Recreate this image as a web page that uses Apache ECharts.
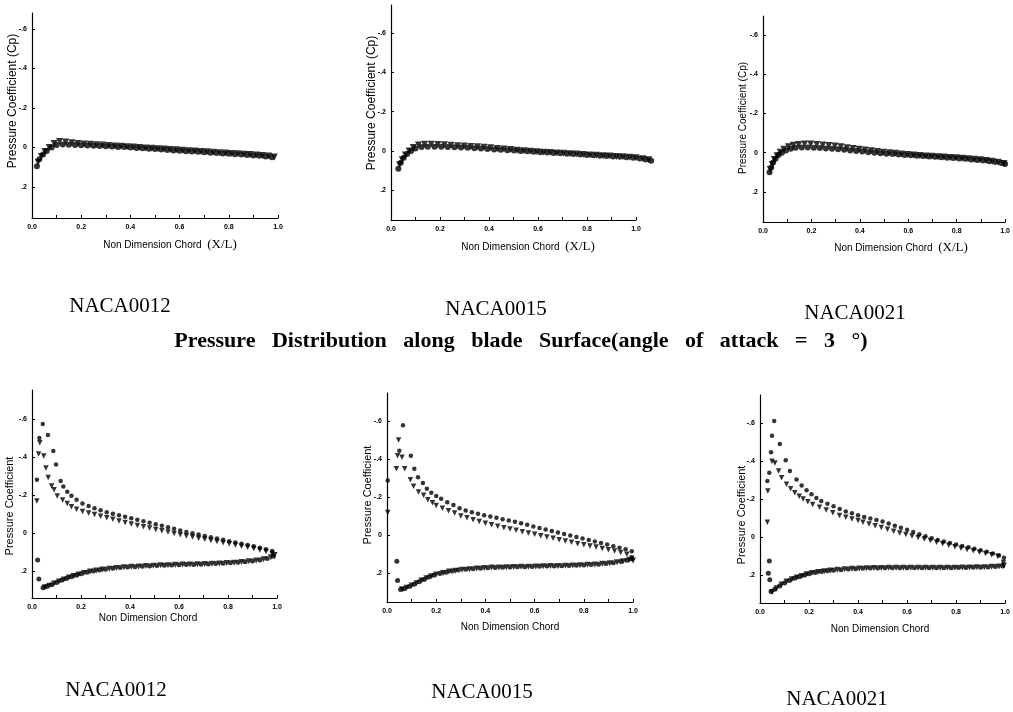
<!DOCTYPE html>
<html><head><meta charset="utf-8">
<script src="https://cdn.jsdelivr.net/npm/echarts@6/dist/echarts.min.js"></script>
<style>html,body{margin:0;padding:0;background:#fff}#c{width:1013px;height:712px}</style>
</head><body><div id="c"></div>
<script>
// ---- tick labels ----
const xTicks = [0, 0.2, 0.4, 0.6, 0.8, 1.0];
const xTickLabels = ['0.0', '0.2', '0.4', '0.6', '0.8', '1.0'];
const xMinorTicks = [0, 0.1, 0.2, 0.3, 0.4, 0.5, 0.6, 0.7, 0.8, 0.9, 1.0];
const yTicks = [-0.6, -0.4, -0.2, 0, 0.2];
const yTickLabels = ['-.6', '-.4', '-.2', '0', '.2'];
const panelNames = ['NACA0012', 'NACA0015', 'NACA0021'];

// ---- top row (angle of attack 0) : [x/L, Cp] ----
const p1Circ = [[0.02,0.095],[0.03,0.06],[0.045,0.035],[0.06,0.018],[0.08,0.0],[0.1,-0.012],[0.125,-0.015],[0.15,-0.014],[0.175,-0.012],[0.2,-0.011],[0.225,-0.01],[0.25,-0.009],[0.275,-0.007],[0.3,-0.006],[0.325,-0.005],[0.35,-0.003],[0.375,-0.002],[0.4,0.0],[0.425,0.002],[0.45,0.004],[0.475,0.006],[0.5,0.008],[0.525,0.01],[0.55,0.013],[0.575,0.015],[0.6,0.017],[0.625,0.019],[0.65,0.02],[0.675,0.022],[0.7,0.024],[0.725,0.026],[0.75,0.028],[0.775,0.03],[0.8,0.032],[0.825,0.034],[0.85,0.036],[0.875,0.038],[0.9,0.04],[0.925,0.042],[0.95,0.045],[0.975,0.05]];
const p1Tri = [[0.025,0.075],[0.038,0.045],[0.052,0.02],[0.07,0.0],[0.09,-0.02],[0.112,-0.03],[0.137,-0.028],[0.162,-0.024],[0.187,-0.02],[0.212,-0.018],[0.237,-0.016],[0.262,-0.014],[0.287,-0.012],[0.312,-0.01],[0.337,-0.008],[0.362,-0.006],[0.387,-0.004],[0.412,-0.002],[0.437,0.0],[0.462,0.002],[0.487,0.004],[0.512,0.006],[0.537,0.008],[0.562,0.01],[0.587,0.012],[0.612,0.014],[0.637,0.016],[0.662,0.018],[0.687,0.02],[0.712,0.022],[0.737,0.024],[0.762,0.026],[0.787,0.028],[0.812,0.03],[0.837,0.032],[0.862,0.034],[0.887,0.036],[0.912,0.038],[0.937,0.04],[0.962,0.043],[0.985,0.048]];

const p2Circ = [[0.03,0.09],[0.04,0.06],[0.052,0.035],[0.066,0.015],[0.082,0.0],[0.1,-0.012],[0.125,-0.02],[0.15,-0.022],[0.178,-0.022],[0.205,-0.021],[0.232,-0.02],[0.259,-0.019],[0.286,-0.018],[0.313,-0.016],[0.34,-0.014],[0.367,-0.012],[0.394,-0.01],[0.421,-0.008],[0.448,-0.006],[0.475,-0.004],[0.502,-0.002],[0.529,0.0],[0.556,0.002],[0.583,0.004],[0.61,0.006],[0.637,0.008],[0.664,0.01],[0.691,0.012],[0.718,0.014],[0.745,0.016],[0.772,0.018],[0.799,0.02],[0.826,0.022],[0.853,0.024],[0.88,0.026],[0.907,0.028],[0.934,0.03],[0.961,0.032],[0.988,0.035],[1.015,0.038],[1.04,0.043],[1.062,0.05]];
const p2Tri = [[0.035,0.07],[0.046,0.045],[0.059,0.02],[0.074,0.0],[0.091,-0.018],[0.112,-0.03],[0.137,-0.034],[0.164,-0.034],[0.191,-0.033],[0.218,-0.031],[0.245,-0.029],[0.272,-0.027],[0.299,-0.025],[0.326,-0.023],[0.353,-0.021],[0.38,-0.019],[0.407,-0.016],[0.434,-0.013],[0.461,-0.01],[0.488,-0.007],[0.515,-0.004],[0.542,-0.001],[0.569,0.002],[0.596,0.004],[0.623,0.006],[0.65,0.008],[0.677,0.01],[0.704,0.012],[0.731,0.014],[0.758,0.016],[0.785,0.018],[0.812,0.02],[0.839,0.022],[0.866,0.024],[0.893,0.026],[0.92,0.028],[0.947,0.03],[0.974,0.032],[1.0,0.035],[1.028,0.039],[1.052,0.045]];

const p3Circ = [[0.027,0.1],[0.034,0.075],[0.042,0.05],[0.052,0.03],[0.064,0.012],[0.078,0.0],[0.095,-0.012],[0.115,-0.02],[0.135,-0.025],[0.16,-0.027],[0.185,-0.027],[0.21,-0.026],[0.235,-0.024],[0.26,-0.022],[0.285,-0.02],[0.31,-0.018],[0.335,-0.015],[0.36,-0.012],[0.385,-0.009],[0.41,-0.006],[0.435,-0.003],[0.46,0.0],[0.485,0.003],[0.51,0.005],[0.535,0.007],[0.56,0.009],[0.585,0.011],[0.61,0.013],[0.635,0.015],[0.66,0.017],[0.685,0.019],[0.71,0.021],[0.735,0.023],[0.76,0.025],[0.785,0.027],[0.81,0.029],[0.835,0.031],[0.86,0.034],[0.885,0.037],[0.91,0.04],[0.935,0.043],[0.96,0.047],[0.985,0.052],[1.0,0.058]];
const p3Tri = [[0.03,0.085],[0.038,0.06],[0.047,0.035],[0.058,0.015],[0.071,-0.002],[0.086,-0.018],[0.105,-0.03],[0.125,-0.038],[0.147,-0.042],[0.172,-0.044],[0.197,-0.044],[0.222,-0.042],[0.247,-0.04],[0.272,-0.037],[0.297,-0.034],[0.322,-0.03],[0.347,-0.026],[0.372,-0.022],[0.397,-0.018],[0.422,-0.014],[0.447,-0.01],[0.472,-0.006],[0.497,-0.003],[0.522,0.0],[0.547,0.003],[0.572,0.006],[0.597,0.009],[0.622,0.012],[0.647,0.014],[0.672,0.016],[0.697,0.018],[0.722,0.02],[0.747,0.022],[0.772,0.024],[0.797,0.026],[0.822,0.028],[0.847,0.03],[0.872,0.033],[0.897,0.036],[0.922,0.039],[0.947,0.043],[0.972,0.048],[0.995,0.055]];

// ---- bottom row (angle of attack 3 deg) ----
const p4UpCirc = [[0.02,-0.28],[0.03,-0.5],[0.044,-0.574],[0.065,-0.516],[0.087,-0.432],[0.098,-0.361],[0.117,-0.274],[0.128,-0.245],[0.144,-0.218],[0.161,-0.196],[0.182,-0.175],[0.206,-0.156],[0.231,-0.142],[0.255,-0.13],[0.28,-0.12],[0.305,-0.11],[0.33,-0.102],[0.355,-0.094],[0.38,-0.086],[0.405,-0.078],[0.43,-0.07],[0.455,-0.062],[0.48,-0.054],[0.505,-0.046],[0.53,-0.038],[0.555,-0.03],[0.58,-0.022],[0.605,-0.014],[0.63,-0.006],[0.655,0.001],[0.68,0.008],[0.705,0.015],[0.73,0.022],[0.755,0.029],[0.78,0.036],[0.805,0.043],[0.83,0.05],[0.855,0.057],[0.88,0.063],[0.905,0.07],[0.93,0.077],[0.955,0.085],[0.98,0.094]];
const p4UpTri = [[0.02,-0.168],[0.027,-0.416],[0.032,-0.475],[0.048,-0.405],[0.057,-0.342],[0.066,-0.293],[0.08,-0.247],[0.09,-0.228],[0.103,-0.195],[0.125,-0.174],[0.144,-0.156],[0.161,-0.139],[0.182,-0.125],[0.206,-0.114],[0.231,-0.105],[0.255,-0.097],[0.28,-0.089],[0.305,-0.08],[0.33,-0.072],[0.355,-0.064],[0.38,-0.056],[0.405,-0.048],[0.43,-0.04],[0.455,-0.033],[0.48,-0.026],[0.505,-0.019],[0.53,-0.012],[0.555,-0.005],[0.58,0.002],[0.605,0.009],[0.63,0.015],[0.655,0.021],[0.68,0.027],[0.705,0.033],[0.73,0.039],[0.755,0.045],[0.78,0.051],[0.805,0.057],[0.83,0.063],[0.855,0.069],[0.88,0.075],[0.905,0.082],[0.93,0.089],[0.955,0.097],[0.98,0.108]];
const p4LoCirc = [[0.023,0.142],[0.028,0.242],[0.045,0.288],[0.06,0.282],[0.08,0.272],[0.1,0.26],[0.12,0.249],[0.14,0.239],[0.16,0.23],[0.18,0.222],[0.2,0.214],[0.225,0.206],[0.25,0.2],[0.275,0.195],[0.3,0.19],[0.33,0.186],[0.36,0.182],[0.39,0.179],[0.42,0.177],[0.45,0.175],[0.48,0.173],[0.51,0.171],[0.54,0.17],[0.57,0.168],[0.6,0.167],[0.63,0.166],[0.66,0.165],[0.69,0.164],[0.72,0.163],[0.75,0.161],[0.78,0.159],[0.81,0.157],[0.84,0.154],[0.87,0.151],[0.9,0.147],[0.93,0.142],[0.96,0.134],[0.985,0.122]];
const p4LoTri = [[0.052,0.286],[0.07,0.278],[0.09,0.266],[0.11,0.255],[0.13,0.244],[0.15,0.234],[0.17,0.226],[0.19,0.218],[0.212,0.21],[0.237,0.203],[0.262,0.197],[0.287,0.192],[0.315,0.188],[0.345,0.184],[0.375,0.18],[0.405,0.178],[0.435,0.176],[0.465,0.174],[0.495,0.172],[0.525,0.17],[0.555,0.169],[0.585,0.167],[0.615,0.166],[0.645,0.165],[0.675,0.164],[0.705,0.163],[0.735,0.162],[0.765,0.16],[0.795,0.158],[0.825,0.156],[0.855,0.153],[0.885,0.149],[0.915,0.145],[0.945,0.138],[0.975,0.128],[0.99,0.115]];

const p5UpCirc = [[0.003,-0.287],[0.05,-0.443],[0.065,-0.577],[0.097,-0.417],[0.111,-0.348],[0.126,-0.304],[0.146,-0.273],[0.162,-0.243],[0.18,-0.222],[0.2,-0.205],[0.22,-0.19],[0.245,-0.172],[0.27,-0.157],[0.295,-0.14],[0.32,-0.128],[0.345,-0.12],[0.37,-0.112],[0.395,-0.104],[0.42,-0.097],[0.445,-0.09],[0.47,-0.083],[0.495,-0.076],[0.52,-0.069],[0.545,-0.061],[0.57,-0.053],[0.595,-0.045],[0.62,-0.037],[0.645,-0.029],[0.67,-0.021],[0.695,-0.013],[0.72,-0.005],[0.745,0.003],[0.77,0.011],[0.795,0.019],[0.82,0.027],[0.845,0.035],[0.87,0.043],[0.895,0.051],[0.92,0.059],[0.945,0.067],[0.97,0.076],[0.995,0.086]];
const p5UpTri = [[0.003,-0.118],[0.038,-0.348],[0.043,-0.417],[0.047,-0.5],[0.061,-0.409],[0.072,-0.348],[0.095,-0.29],[0.108,-0.256],[0.128,-0.226],[0.149,-0.209],[0.166,-0.185],[0.185,-0.17],[0.2,-0.155],[0.225,-0.14],[0.25,-0.127],[0.275,-0.115],[0.3,-0.1],[0.325,-0.09],[0.35,-0.08],[0.375,-0.071],[0.4,-0.062],[0.425,-0.054],[0.45,-0.046],[0.475,-0.038],[0.5,-0.031],[0.525,-0.024],[0.55,-0.017],[0.575,-0.01],[0.6,-0.003],[0.625,0.004],[0.65,0.011],[0.675,0.018],[0.7,0.025],[0.725,0.032],[0.75,0.039],[0.775,0.046],[0.8,0.052],[0.825,0.058],[0.85,0.064],[0.875,0.071],[0.9,0.078],[0.925,0.085],[0.95,0.092],[0.975,0.102],[0.995,0.122]];
const p5LoCirc = [[0.04,0.139],[0.043,0.24],[0.055,0.287],[0.07,0.283],[0.09,0.272],[0.11,0.26],[0.13,0.247],[0.15,0.234],[0.17,0.222],[0.19,0.212],[0.215,0.203],[0.24,0.196],[0.265,0.19],[0.29,0.185],[0.32,0.181],[0.35,0.178],[0.38,0.175],[0.41,0.173],[0.44,0.171],[0.47,0.17],[0.5,0.169],[0.53,0.168],[0.56,0.167],[0.59,0.166],[0.62,0.165],[0.65,0.164],[0.68,0.163],[0.71,0.162],[0.74,0.161],[0.77,0.16],[0.8,0.158],[0.83,0.156],[0.86,0.154],[0.89,0.15],[0.92,0.146],[0.95,0.14],[0.975,0.133],[0.995,0.125]];
const p5LoTri = [[0.062,0.286],[0.08,0.278],[0.1,0.266],[0.12,0.254],[0.14,0.24],[0.16,0.228],[0.18,0.217],[0.2,0.208],[0.228,0.2],[0.252,0.193],[0.278,0.188],[0.305,0.183],[0.335,0.18],[0.365,0.177],[0.395,0.174],[0.425,0.172],[0.455,0.171],[0.485,0.17],[0.515,0.169],[0.545,0.168],[0.575,0.167],[0.605,0.166],[0.635,0.165],[0.665,0.164],[0.695,0.163],[0.725,0.162],[0.755,0.161],[0.785,0.159],[0.815,0.157],[0.845,0.155],[0.875,0.152],[0.905,0.149],[0.935,0.144],[0.96,0.138],[0.985,0.13],[1.0,0.135]];

const p6UpCirc = [[0.03,-0.296],[0.038,-0.339],[0.045,-0.447],[0.049,-0.534],[0.058,-0.612],[0.081,-0.49],[0.105,-0.405],[0.122,-0.348],[0.149,-0.304],[0.17,-0.272],[0.19,-0.247],[0.21,-0.225],[0.23,-0.206],[0.25,-0.19],[0.275,-0.175],[0.3,-0.162],[0.325,-0.148],[0.35,-0.135],[0.375,-0.125],[0.4,-0.115],[0.425,-0.106],[0.45,-0.097],[0.475,-0.09],[0.5,-0.082],[0.525,-0.071],[0.55,-0.06],[0.575,-0.049],[0.6,-0.038],[0.625,-0.026],[0.65,-0.015],[0.675,-0.004],[0.7,0.006],[0.725,0.016],[0.75,0.024],[0.775,0.032],[0.8,0.04],[0.825,0.047],[0.85,0.054],[0.875,0.062],[0.9,0.07],[0.925,0.078],[0.95,0.087],[0.975,0.097],[0.995,0.11]];
const p6UpTri = [[0.03,-0.078],[0.032,-0.243],[0.049,-0.4],[0.061,-0.391],[0.076,-0.348],[0.088,-0.312],[0.108,-0.278],[0.125,-0.255],[0.142,-0.234],[0.16,-0.215],[0.176,-0.2],[0.195,-0.186],[0.215,-0.172],[0.243,-0.157],[0.27,-0.143],[0.297,-0.128],[0.324,-0.113],[0.35,-0.104],[0.375,-0.095],[0.4,-0.087],[0.42,-0.078],[0.445,-0.068],[0.47,-0.059],[0.495,-0.05],[0.52,-0.041],[0.545,-0.031],[0.57,-0.021],[0.595,-0.013],[0.62,-0.005],[0.645,0.003],[0.67,0.011],[0.695,0.019],[0.72,0.027],[0.745,0.035],[0.77,0.043],[0.795,0.051],[0.82,0.059],[0.845,0.066],[0.87,0.073],[0.895,0.08],[0.92,0.087],[0.945,0.093],[0.97,0.102],[0.993,0.135]];
const p6LoCirc = [[0.034,0.191],[0.038,0.127],[0.04,0.226],[0.045,0.287],[0.06,0.275],[0.08,0.258],[0.1,0.242],[0.12,0.229],[0.14,0.218],[0.16,0.209],[0.18,0.201],[0.2,0.194],[0.225,0.187],[0.25,0.182],[0.275,0.178],[0.3,0.175],[0.33,0.172],[0.36,0.169],[0.39,0.167],[0.42,0.165],[0.45,0.164],[0.48,0.163],[0.51,0.162],[0.54,0.162],[0.57,0.162],[0.6,0.162],[0.63,0.162],[0.66,0.162],[0.69,0.162],[0.72,0.162],[0.75,0.162],[0.78,0.162],[0.81,0.161],[0.84,0.161],[0.87,0.16],[0.9,0.16],[0.93,0.158],[0.96,0.156],[0.99,0.153]];
const p6LoTri = [[0.05,0.29],[0.068,0.27],[0.088,0.25],[0.108,0.235],[0.13,0.223],[0.15,0.213],[0.17,0.205],[0.19,0.197],[0.212,0.19],[0.237,0.184],[0.262,0.18],[0.287,0.176],[0.315,0.173],[0.345,0.17],[0.375,0.168],[0.405,0.166],[0.435,0.165],[0.465,0.164],[0.495,0.163],[0.525,0.162],[0.555,0.162],[0.585,0.162],[0.615,0.162],[0.645,0.162],[0.675,0.162],[0.705,0.162],[0.735,0.162],[0.765,0.162],[0.795,0.162],[0.825,0.161],[0.855,0.161],[0.885,0.16],[0.915,0.159],[0.945,0.157],[0.975,0.155],[0.995,0.15]];

// ---- layout (pixels) ----
const panels = [
  {left:32,  top:13,  width:246, height:205, yMin:-0.681, yMax:0.357, series:[[p1Circ,'c',6],[p1Tri,'t',7]]},
  {left:391, top:5,   width:245, height:215, yMin:-0.742, yMax:0.351, series:[[p2Circ,'c',6],[p2Tri,'t',7]]},
  {left:763, top:16,  width:247, height:206, yMin:-0.697, yMax:0.353, series:[[p3Circ,'c',6],[p3Tri,'t',7]]},
  {left:32,  top:390, width:245, height:208, yMin:-0.753, yMax:0.342, series:[[p4UpCirc,'c',4.5],[p4UpTri,'t',5.5],[p4LoCirc,'c',5],[p4LoTri,'t',6]]},
  {left:387, top:393, width:246, height:209, yMin:-0.747, yMax:0.353, series:[[p5UpCirc,'c',4.5],[p5UpTri,'t',5.5],[p5LoCirc,'c',5],[p5LoTri,'t',6]]},
  {left:760, top:395, width:246, height:208, yMin:-0.749, yMax:0.348, series:[[p6UpCirc,'c',4.5],[p6UpTri,'t',5.5],[p6LoCirc,'c',5],[p6LoTri,'t',6]]}
];

function lab(vals, labels) {
  return function (v) {
    for (let i = 0; i < vals.length; i++) if (Math.abs(vals[i] - v) < 1e-6) return labels[i];
    return '';
  };
}
const tickFont = {fontSize: 7, fontWeight: 'bold', color: '#000', fontFamily: 'Liberation Sans'};
const grid = [], xAxis = [], yAxis = [], series = [];
panels.forEach((p, i) => {
  grid.push({left: p.left, top: p.top, width: p.width, height: p.height});
  xAxis.push({
    gridIndex: i, type: 'value', min: 0, max: 1.0,
    axisLine: {show: true, onZero: false, lineStyle: {color: '#000', width: 1.2}},
    axisTick: {show: true, inside: true, length: 3, customValues: xMinorTicks, lineStyle: {color: '#000'}},
    axisLabel: Object.assign({customValues: xTicks, formatter: lab(xTicks, xTickLabels), margin: 6}, tickFont),
    splitLine: {show: false}
  });
  yAxis.push({
    gridIndex: i, type: 'value', inverse: true, min: p.yMin, max: p.yMax,
    axisLine: {show: true, onZero: false, lineStyle: {color: '#000', width: 1.2}},
    axisTick: {show: true, inside: true, length: 3, customValues: yTicks, lineStyle: {color: '#000'}},
    axisLabel: Object.assign({customValues: yTicks, formatter: lab(yTicks, yTickLabels), margin: 5}, tickFont),
    splitLine: {show: false}
  });
  p.series.forEach(([d, kind, size]) => {
    series.push({
      type: 'scatter', xAxisIndex: i, yAxisIndex: i, data: d, clip: false,
      symbol: kind === 'c' ? 'circle' : 'triangle',
      symbolRotate: kind === 'c' ? 0 : 180,
      symbolSize: size,
      itemStyle: {color: '#000'},
      silent: true
    });
  });
});

const sans = 'Liberation Sans, Arial, sans-serif';
const serif = 'Liberation Serif, Times New Roman, serif';
function txt(t, x, y, size, opt) {
  return Object.assign({type: 'text', x: x, y: y, silent: true,
    style: {text: t, fontSize: size, fontFamily: (opt && opt.ff) || sans, fontWeight: (opt && opt.fw) || 'normal',
      fill: '#000', align: 'center', verticalAlign: 'middle', rich: opt && opt.rich}}, opt && opt.rot ? {rotation: Math.PI / 2} : {});
}
const xl = {a: {fontSize: 10, fontFamily: sans, fill: '#000'}, b: {fontSize: 13, fontFamily: serif, fill: '#000'}};
const graphic = [
  txt('Pressure Coefficient (Cp)', 13, 101, 12, {rot: true}),
  txt('Pressure Coefficient (Cp)', 372, 103, 12, {rot: true}),
  txt('Pressure Coefficient (Cp)', 743, 118, 10, {rot: true}),
  txt('Pressure Coefficient', 10, 506, 11, {rot: true}),
  txt('Pressure Coefficient', 368, 495, 11, {rot: true}),
  txt('Pressure Coefficient', 742, 515, 11, {rot: true}),
  txt('{a|Non Dimension Chord}  {b|(X/L)}', 170, 245, 10, {rich: xl}),
  txt('{a|Non Dimension Chord}  {b|(X/L)}', 528, 247, 10, {rich: xl}),
  txt('{a|Non Dimension Chord}  {b|(X/L)}', 901, 248, 10, {rich: xl}),
  txt('Non Dimension Chord', 148, 618, 10),
  txt('Non Dimension Chord', 510, 627, 10),
  txt('Non Dimension Chord', 880, 629, 10),
  txt(panelNames[0], 120, 306, 21, {ff: serif}),
  txt(panelNames[1], 496, 309, 21, {ff: serif}),
  txt(panelNames[2], 855, 313, 21, {ff: serif}),
  txt('Pressure   Distribution   along   blade   Surface(angle   of   attack   =   3   °)', 521, 341, 22, {ff: serif, fw: 'bold'}),
  txt(panelNames[0], 116, 690, 21, {ff: serif}),
  txt(panelNames[1], 482, 692, 21, {ff: serif}),
  txt(panelNames[2], 837, 699, 21, {ff: serif})
];

const chart = echarts.init(document.getElementById('c'), null, {renderer: 'canvas'});
chart.setOption({animation: false, backgroundColor: '#fff', grid, xAxis, yAxis, series, graphic});
</script></body></html>
